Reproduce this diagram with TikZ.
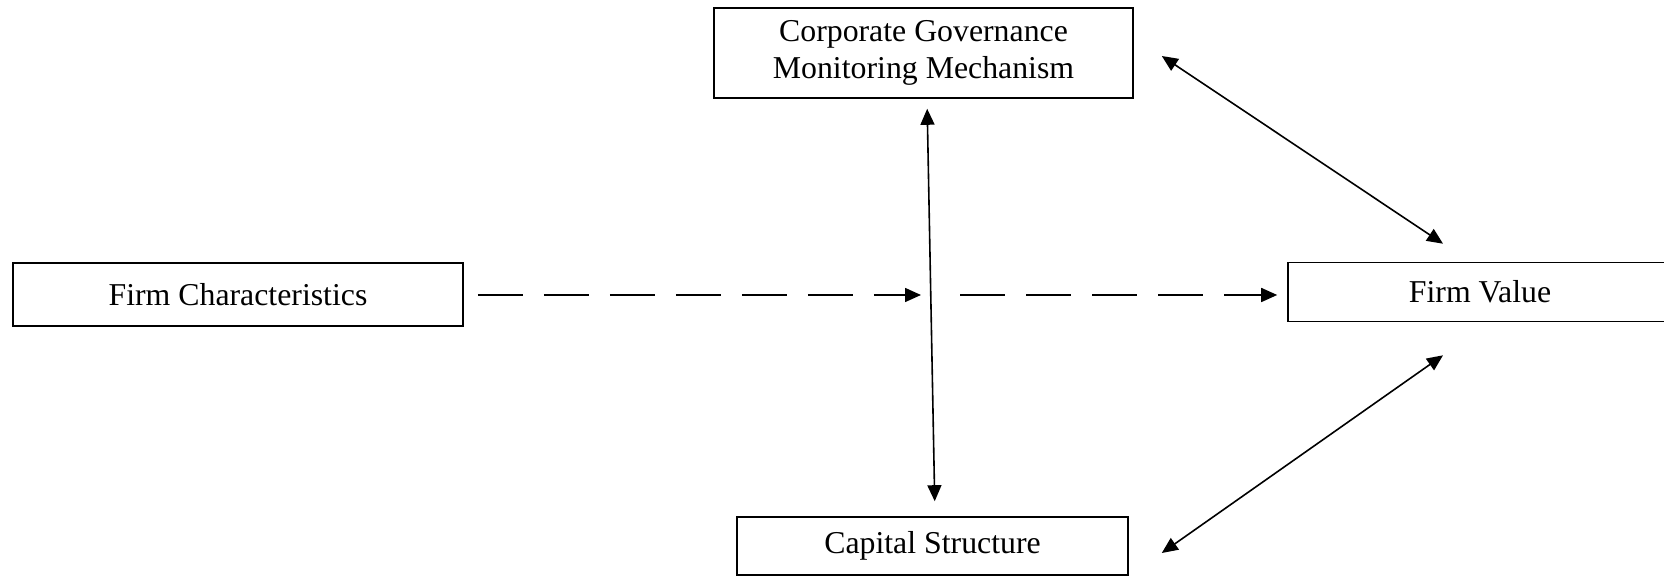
\documentclass[tikz,border=0pt]{standalone}
\usepackage{fontspec}
\setmainfont{Liberation Serif}
\usetikzlibrary{arrows.meta,positioning}

\tikzstyle{block} = [
        draw,
        fill=white,
        rectangle,
        line width=0.8pt,
        align=center,
        font=\fontsize{15.9}{18.5}\selectfont
    ]
\tikzstyle{dashline} = [
        dash pattern=on 22.5pt off 10.5pt
    ]

\begin{document}
\begin{tikzpicture}[x=0.5pt, y=-0.5pt, line width=0.8pt,
        >={Triangle[length=8pt, width=7pt]}]
        \useasboundingbox (0,0) rectangle (1664,576);
        \node(char) [block, minimum width=225pt, minimum height=31.5pt]
            at (238,294.5) {Firm Characteristics};
        \node(gov) [block, minimum width=209.5pt, minimum height=45pt]
            at (923.5,53) {Corporate Governance\\Monitoring Mechanism};
        \node(fval) [block, minimum width=192pt, minimum height=29.5pt]
            at (1480,292) {Firm Value};
        \node(cap) [block, minimum width=195.5pt, minimum height=29pt]
            at (932.5,546) {Capital Structure};
        \node(midl) [coordinate] at (921,295) {};
        \node(midr) [coordinate, right of=midl, node distance=19.5pt] {};
        \draw[<->, shorten <=5pt, shorten >=7.5pt]
            ([xshift=1.75pt]gov.south) -- ([xshift=1.25pt]cap.north);
        \draw[<->] ([xshift=14pt, yshift=-1.5pt]gov.east)
            -- ([xshift=-18.5pt, yshift=9pt]fval.north);
        \draw[<->] ([xshift=16.5pt, yshift=-3.5pt]cap.east)
            -- ([xshift=-18.5pt, yshift=-16.5pt]fval.south);
        \draw[->, dashline, shorten <=7pt] (char.east |- midl) -- (midl);
        \draw[->, dashline, shorten >=5pt] (midr) -- (fval.west |- midr);
    \end{tikzpicture}
\end{document}
